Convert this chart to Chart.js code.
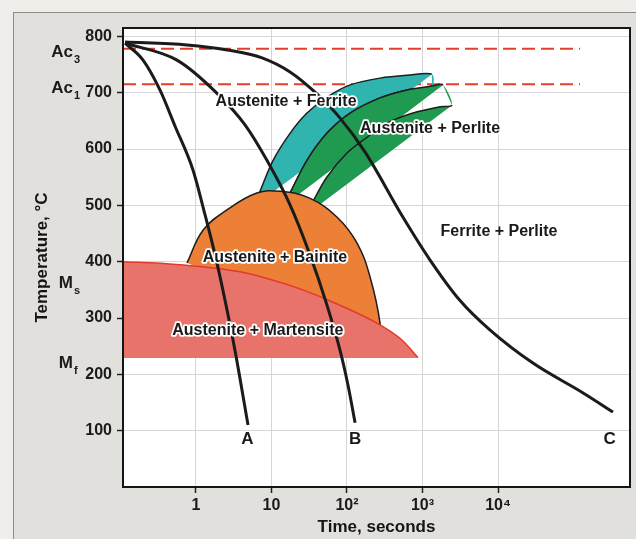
<!DOCTYPE html>
<html>
<head>
<meta charset="utf-8">
<script src="https://cdn.jsdelivr.net/npm/chart.js@4.4.1/dist/chart.umd.min.js"></script>
<style>
  html, body { margin: 0; padding: 0; background: #efeeeb; }
  canvas { display: block; }
</style>
</head>
<body>
<canvas id="cct" width="636" height="539"></canvas>
<script>
// axis ticks
const timeTicks = [1, 10, 100, 1000, 10000];
const timeTickLabels = ['1', '10', '10²', '10³', '10⁴'];
const tempTicks = [100, 200, 300, 400, 500, 600, 700, 800];

// cooling curves [time s, temp C]
const curveA = [[0.115, 788], [0.199, 758], [0.333, 705], [0.527, 641], [0.912, 563], [1.32, 483], [1.79, 412], [2.42, 332], [3.28, 243], [4.89, 110]];
const curveB = [[0.115, 788], [0.56, 758], [1.9, 699], [4.46, 643], [8.7, 580], [17.6, 501], [32.4, 412], [54.3, 323], [80.8, 243], [103, 181], [128, 114]];
const curveC = [[0.115, 790], [0.76, 785], [2.6, 776], [7.5, 762], [17.6, 737], [37.7, 701], [81, 655], [173, 595], [552, 479], [1260, 403], [3100, 332], [7800, 279], [29000, 220], [134000, 167], [334000, 133]];

// transformation regions
const martensite = [[0.108, 400], [0.45, 396], [3.5, 383], [9.5, 369], [26, 350], [74, 325], [274, 288], [535, 261], [870, 230]];
const mfTemp = 229;
const bainite = [[0.76, 398], [1.24, 456], [2.57, 492], [6.4, 522], [13, 525], [32, 513], [74, 479], [136, 433], [202, 373], [274, 291], [280, 240]];
const ferrite = [[6.0, 500], [7.0, 524], [10.5, 580], [17.6, 628], [29.5, 664], [54, 692], [110, 714], [274, 726], [624, 731], [1336, 733],
                 [1336, 712], [624, 705], [274, 691], [110, 664], [54, 628], [29.5, 580], [17.6, 522], [14.7, 500]];
const perlite = [[14.7, 500], [17.6, 522], [29.5, 580], [54, 628], [110, 664], [274, 691], [624, 705], [1336, 712], [1870, 714],
                 [2460, 678], [1700, 675], [748, 664], [339, 646], [184, 621], [100, 593], [54, 550], [34.4, 504], [28.6, 483]];

// critical temperatures
const ac3 = [[0.108, 778], [122000, 778]];
const ac1 = [[0.108, 715], [122000, 715]];

// labels
const regionText = ['Austenite + Ferrite', 'Austenite + Perlite', 'Austenite + Bainite', 'Austenite + Martensite', 'Ferrite + Perlite'];
const regionTime = [15.6, 1260, 11.1, 6.6, 10300];
const regionTemp = [685, 637, 407, 277, 453];
const regionHalo = [true, true, true, true, false];
const curveNames = ['A', 'B', 'C'];
const curveNameTime = [4.8, 128, 300000];
const curveNameTemp = 85;
const sideText = ['Ac', 'Ac', 'M', 'M'];
const sideSub = ['3', '1', 's', 'f'];
const sideTemp = [772, 708, 362, 220];

const pts = arr => arr.map(p => ({x: p[0], y: p[1]}));
const FONT = "'Liberation Sans', Arial, sans-serif";
Chart.defaults.font.family = FONT;

const chartBackground = {
    id: 'chartBackground',
    beforeDraw(chart) {
        const ctx = chart.ctx;
        const a = chart.chartArea;
        ctx.save();
        ctx.fillStyle = '#efeeeb';
        ctx.fillRect(0, 0, chart.width, chart.height);
        ctx.fillStyle = '#e2e0dc';
        ctx.fillRect(13, 12, chart.width, chart.height);
        ctx.strokeStyle = '#8c8a84';
        ctx.lineWidth = 1;
        ctx.strokeRect(13.5, 12.5, chart.width + 10, chart.height + 10);
        ctx.fillStyle = '#ffffff';
        ctx.fillRect(a.left, a.top, a.right - a.left, a.bottom - a.top);
        ctx.restore();
    }
};

const chartLabels = {
    id: 'chartLabels',
    afterDatasetsDraw(chart) {
        const ctx = chart.ctx;
        const x = chart.scales.x, y = chart.scales.y;
        const a = chart.chartArea;
        ctx.save();
        ctx.strokeStyle = '#151515';
        ctx.lineWidth = 2;
        ctx.strokeRect(a.left, a.top, a.right - a.left, a.bottom - a.top);

        ctx.textAlign = 'center';
        ctx.textBaseline = 'middle';
        ctx.lineJoin = 'round';
        ctx.font = 'bold 16px ' + FONT;
        regionText.forEach((t, i) => {
            const px = x.getPixelForValue(regionTime[i]);
            const py = y.getPixelForValue(regionTemp[i]);
            if (regionHalo[i]) {
                ctx.strokeStyle = '#ffffff';
                ctx.lineWidth = 3.5;
                ctx.strokeText(t, px, py);
            }
            ctx.fillStyle = '#1a1a1a';
            ctx.fillText(t, px, py);
        });

        ctx.font = 'bold 17px ' + FONT;
        curveNames.forEach((t, i) => {
            ctx.fillText(t, x.getPixelForValue(curveNameTime[i]), y.getPixelForValue(curveNameTemp));
        });

        sideText.forEach((t, i) => {
            const right = a.left - 50;
            const py = y.getPixelForValue(sideTemp[i]);
            ctx.textAlign = 'right';
            ctx.font = 'bold 17px ' + FONT;
            ctx.fillText(t, right, py);
            ctx.textAlign = 'left';
            ctx.font = 'bold 11px ' + FONT;
            ctx.fillText(sideSub[i], right + 1, py + 8);
        });
        ctx.restore();
    }
};

const curveStyle = {borderColor: '#1b1b1b', borderWidth: 3, pointRadius: 0, cubicInterpolationMode: 'monotone', fill: false, order: 0};
const outline = '#1e1e1e';

new Chart(document.getElementById('cct'), {
    type: 'line',
    data: {
        datasets: [
            Object.assign({label: 'A', data: pts(curveA)}, curveStyle),
            Object.assign({label: 'B', data: pts(curveB)}, curveStyle),
            Object.assign({label: 'C', data: pts(curveC)}, curveStyle),
            {
                label: 'Austenite + Martensite', data: pts(martensite), order: 1,
                borderColor: '#e23a2c', borderWidth: 1.5, backgroundColor: '#e8736b',
                fill: {value: mfTemp}, pointRadius: 0, cubicInterpolationMode: 'monotone'
            },
            {
                label: 'Austenite + Bainite', data: pts(bainite), order: 2,
                borderColor: outline, borderWidth: 1.5, backgroundColor: '#ec8036',
                fill: 'shape', pointRadius: 0, tension: 0.4
            },
            {
                label: 'Austenite + Perlite', data: pts(perlite), order: 3,
                borderColor: outline, borderWidth: 1.5, backgroundColor: '#1f9a50',
                fill: 'shape', pointRadius: 0, tension: 0.3,
                segment: {borderColor: c => c.p0DataIndex === 8 ? 'rgba(0,0,0,0)' : undefined}
            },
            {
                label: 'Austenite + Ferrite', data: pts(ferrite), order: 4,
                borderColor: outline, borderWidth: 1.5, backgroundColor: '#2fb4b0',
                fill: 'shape', pointRadius: 0, tension: 0.3,
                segment: {borderColor: c => c.p0DataIndex === 9 ? 'rgba(0,0,0,0)' : undefined}
            },
            {
                label: 'Ac3', data: pts(ac3), order: 5, borderColor: '#e2402c', borderWidth: 2,
                borderDash: [13, 6], pointRadius: 0, fill: false
            },
            {
                label: 'Ac1', data: pts(ac1), order: 5, borderColor: '#e2402c', borderWidth: 2,
                borderDash: [13, 6], pointRadius: 0, fill: false
            }
        ]
    },
    options: {
        responsive: false,
        animation: false,
        devicePixelRatio: 1,
        layout: {padding: {top: 28, right: 6, left: 0, bottom: 0}},
        plugins: {legend: {display: false}, tooltip: {enabled: false}},
        scales: {
            x: {
                type: 'logarithmic',
                min: 0.108,
                max: 560000,
                afterBuildTicks: s => { s.ticks = timeTicks.map(v => ({value: v})); },
                afterFit: s => { s.height = 52; },
                ticks: {
                    callback: (v, i) => timeTickLabels[i],
                    autoSkip: false, maxRotation: 0, padding: 3,
                    color: '#1a1a1a', font: {size: 16, weight: 'bold'}
                },
                grid: {color: '#d6d6d6', tickColor: '#222', tickLength: 6, tickWidth: 1.5},
                border: {color: '#151515', width: 2, z: 1},
                title: {display: true, text: 'Time, seconds', color: '#151515', font: {size: 17, weight: 'bold'}, padding: {top: 0, bottom: 1}}
            },
            y: {
                type: 'linear',
                min: 0,
                max: 815,
                afterBuildTicks: s => { s.ticks = tempTicks.map(v => ({value: v})); },
                afterFit: s => { s.width = 123; },
                ticks: {padding: 5, color: '#1a1a1a', font: {size: 16, weight: 'bold'}},
                grid: {color: '#d6d6d6', tickColor: '#222', tickLength: 6, tickWidth: 1.5},
                border: {color: '#151515', width: 2, z: 1},
                title: {display: true, text: 'Temperature, °C', color: '#151515', font: {size: 17, weight: 'bold'}, padding: {top: 32, bottom: 0}}
            }
        }
    },
    plugins: [chartBackground, chartLabels]
});
</script>
</body>
</html>
